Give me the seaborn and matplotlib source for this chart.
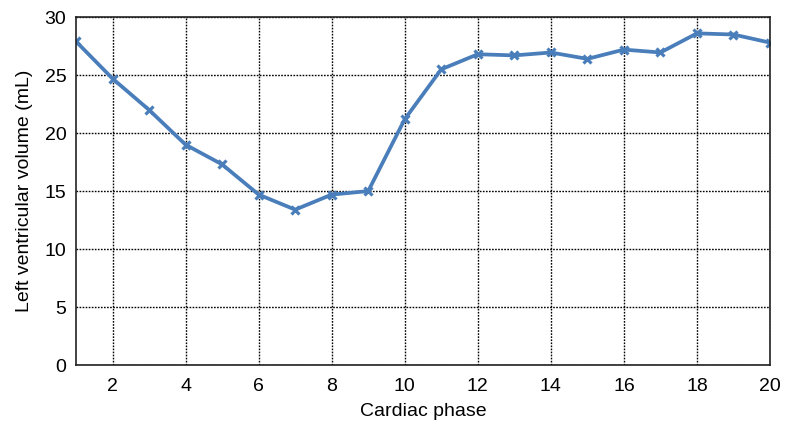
import matplotlib
matplotlib.use('Agg')
import matplotlib.pyplot as plt
import seaborn as sns
import numpy as np
import pandas as pd

# dados
phase = list(range(1, 21))
volume = [27.9, 24.7, 22.0, 19.0, 17.3, 14.7, 13.4, 14.7, 15.0, 21.2,
          25.5, 26.8, 26.7, 26.95, 26.4, 27.2, 26.95, 28.6, 28.5, 27.8]
xticks = [2, 4, 6, 8, 10, 12, 14, 16, 18, 20]
yticks = [0, 5, 10, 15, 20, 25, 30]

sns.set_style('white')
plt.rcParams['font.family'] = ['Liberation Sans', 'DejaVu Sans']

df = pd.DataFrame({'phase': phase, 'volume': volume})

fig = plt.figure(figsize=(7.87, 4.28), dpi=100)
ax = fig.add_axes([0.0966, 0.147, 0.8818, 0.813])

sns.lineplot(data=df, x='phase', y='volume', ax=ax, color='#4a7ebb',
             linewidth=2.7, marker='x', markersize=6, markeredgewidth=2.3,
             markeredgecolor='#4a7ebb')

ax.set_xlim(1, 20)
ax.set_ylim(0, 30)
ax.set_xticks(xticks)
ax.set_yticks(yticks)
ax.grid(True, color='black', linestyle=(0, (1.2, 1.0)), linewidth=1.0)
ax.tick_params(axis='x', labelsize=14, length=0, pad=9, colors='black')
ax.tick_params(axis='y', labelsize=14, length=0, pad=7, colors='black')
for s in ax.spines.values():
    s.set_color('#222222')
    s.set_linewidth(1.2)
ax.set_xlabel('Cardiac phase', fontsize=14, labelpad=6, color='black')
ax.set_ylabel('Left ventricular volume (mL)', fontsize=14, labelpad=8, color='black')

fig.savefig('out.png', dpi=100)
